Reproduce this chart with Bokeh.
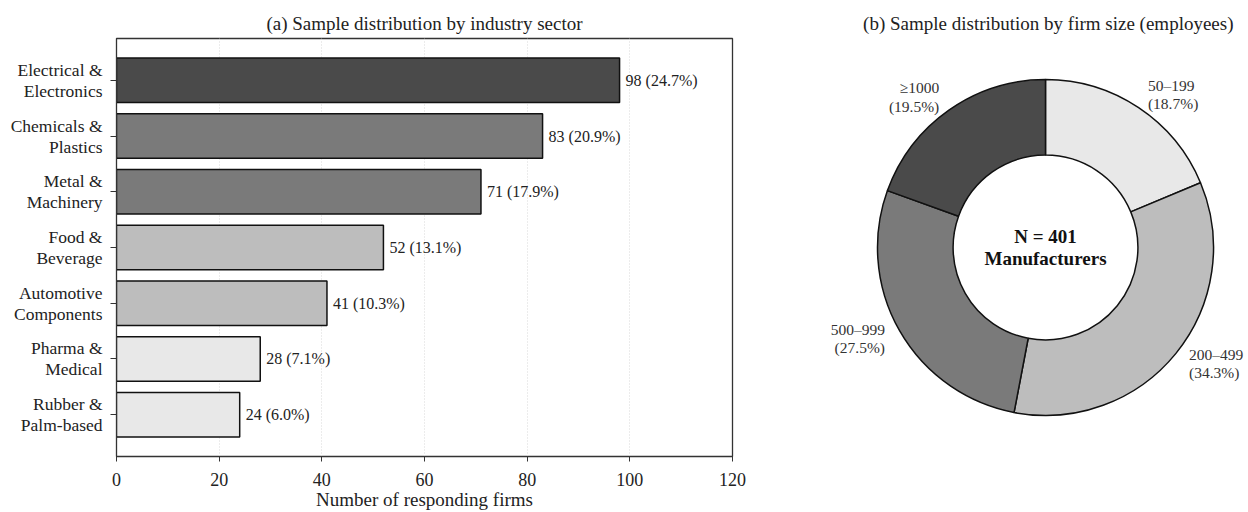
import math
from bokeh.plotting import figure
from bokeh.layouts import row
from bokeh.models import Range1d, FixedTicker
from bokeh.core.properties import value
from bokeh.embed import file_html
from bokeh.resources import INLINE

# ---- data -----------------------------------------------------------------
sectors = ["Electrical &\nElectronics", "Chemicals &\nPlastics", "Metal &\nMachinery",
           "Food &\nBeverage", "Automotive\nComponents", "Pharma &\nMedical",
           "Rubber &\nPalm-based"]
firms = [98, 83, 71, 52, 41, 28, 24]
sector_colors = ["#4a4a4a", "#7a7a7a", "#7a7a7a", "#bdbdbd", "#bdbdbd", "#e8e8e8", "#e8e8e8"]
x_ticks = [0, 20, 40, 60, 80, 100, 120]

size_classes = ["50\u2013199", "200\u2013499", "500\u2013999", "\u22651000"]
size_share = [18.7, 34.3, 27.5, 19.5]
size_colors = ["#e8e8e8", "#bdbdbd", "#7a7a7a", "#4a4a4a"]
n_total = 401

FONT = "Liberation Serif"
TXT = "#222222"

# ---- (a) horizontal bars ----------------------------------------------------
n = len(sectors)
ypos = [n - 1 - i for i in range(n)]          # first sector on top
total_firms = sum(firms)
bar_labels = [f"{v} ({v / total_firms * 100:.1f}%)" for v in firms]

p1 = figure(width=760, height=512, output_backend="svg", toolbar_location=None,
            x_range=Range1d(0, 120), y_range=Range1d(-0.75, n - 0.25),
            min_border_left=116, min_border_right=28, min_border_top=38,
            min_border_bottom=54)
p1.title.text = "(a) Sample distribution by industry sector"
p1.title.align = "center"
p1.title.text_font = FONT
p1.title.text_font_size = "19px"
p1.title.text_font_style = "normal"
p1.title.text_color = TXT
p1.title.standoff = 10

p1.hbar(y=ypos, right=firms, left=0, height=0.8, fill_color=sector_colors,
        line_color="#111111", line_width=1.5)
p1.text(x=firms, y=ypos, text=bar_labels, x_offset=6, text_baseline="middle",
        text_align="left", text_font=value(FONT), text_font_size="16px",
        text_color=TXT)

p1.outline_line_color = "#333333"
p1.outline_line_width = 1.3
p1.ygrid.visible = False
p1.xgrid.ticker = FixedTicker(ticks=x_ticks)
p1.xgrid.grid_line_color = "#d9d9d9"
p1.xgrid.grid_line_dash = "1 2"
p1.xgrid.grid_line_width = 1

xa = p1.xaxis[0]
xa.ticker = FixedTicker(ticks=x_ticks)
xa.axis_label = "Number of responding firms"
xa.axis_label_text_font = FONT
xa.axis_label_text_font_size = "19px"
xa.axis_label_text_font_style = "normal"
xa.axis_label_text_color = TXT
xa.axis_label_standoff = 0
xa.major_label_text_font = FONT
xa.major_label_text_font_size = "18px"
xa.major_label_text_color = TXT
xa.major_label_standoff = 11
xa.major_tick_out = 5
xa.major_tick_in = 0
xa.minor_tick_out = 0
xa.minor_tick_in = 0
xa.axis_line_color = "#333333"
xa.major_tick_line_color = "#333333"

ya = p1.yaxis[0]
ya.ticker = FixedTicker(ticks=ypos)
ya.major_label_overrides = {y: s for y, s in zip(ypos, sectors)}
ya.major_label_text_font = FONT
ya.major_label_text_font_size = "17.5px"
ya.major_label_text_color = TXT
ya.major_label_text_line_height = 1.05
ya.major_label_standoff = 8
ya.major_tick_out = 6
ya.major_tick_in = 0
ya.minor_tick_out = 0
ya.minor_tick_in = 0
ya.axis_line_color = "#333333"
ya.major_tick_line_color = "#333333"

# ---- (b) donut --------------------------------------------------------------
cum = [0.0]
for s in size_share:
    cum.append(cum[-1] + s)
tot = cum[-1]
starts = [math.pi / 2 - cum[i] / tot * 2 * math.pi for i in range(len(size_share))]
ends = [math.pi / 2 - cum[i + 1] / tot * 2 * math.pi for i in range(len(size_share))]
mids = [(a + b) / 2 for a, b in zip(starts, ends)]

# 168 px per unit; ring centre sits 285 px from the panel's left edge
p2 = figure(width=488, height=512, output_backend="svg", toolbar_location=None,
            x_range=Range1d(-285 / 168, 203 / 168), y_range=Range1d(-1.25, 1.25),
            x_axis_location=None, y_axis_location=None,
            min_border_left=0, min_border_right=0, min_border_top=38,
            min_border_bottom=54)
p2.title.text = "(b) Sample distribution by firm size (employees)"
p2.title.align = "right"
p2.title.offset = 15
p2.title.text_font = FONT
p2.title.text_font_size = "19px"
p2.title.text_font_style = "normal"
p2.title.text_color = TXT
p2.title.standoff = 10
p2.outline_line_color = None
p2.grid.visible = False

p2.annular_wedge(x=0, y=0, inner_radius=0.55, outer_radius=1.0,
                 start_angle=starts, end_angle=ends, direction="clock",
                 fill_color=size_colors, line_color="#111111", line_width=1.5)

lab_r = 1.1
lx = [lab_r * math.cos(a) for a in mids]
ly = [lab_r * math.sin(a) for a in mids]
aligns = ["left" if x > 0 else "right" for x in lx]
size_labels = [f"{c}\n({s:.1f}%)" for c, s in zip(size_classes, size_share)]
p2.text(x=lx, y=ly, text=size_labels, text_align=aligns, text_baseline="middle",
        text_font=value(FONT), text_font_size="15.5px", text_color="#333333",
        text_line_height=1.1)
p2.text(x=[0], y=[0], text=[f"N = {n_total}\nManufacturers"], text_align="center",
        text_baseline="middle", text_font=value(FONT), text_font_size="19px",
        text_font_style="bold", text_color="#111111", text_line_height=1.05)

layout = row(p1, p2)
open("out.html", "w").write(file_html(layout, INLINE))
